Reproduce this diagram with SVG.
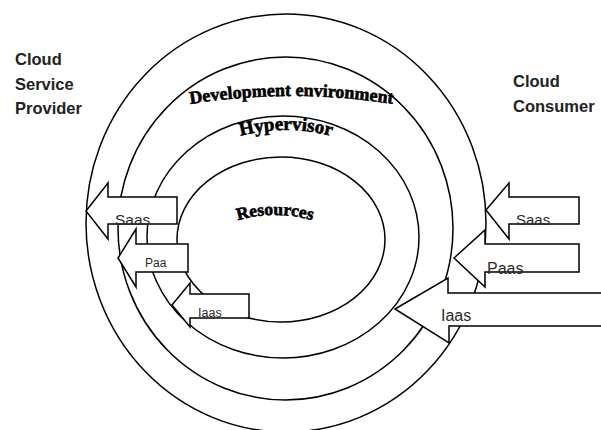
<svg xmlns="http://www.w3.org/2000/svg" width="601" height="430" viewBox="0 0 601 430">
  <style>
    .ring { fill: none; stroke: #000; stroke-width: 1.5; }
    .arrow { fill: #fff; stroke: #000; stroke-width: 1.5; stroke-linejoin: miter; }
    .lbl { font-family: "Liberation Sans", Arial, sans-serif; fill: #2a2a2a; }
    .side { font-family: "Liberation Sans", Arial, sans-serif; font-weight: bold; font-size: 16.5px; fill: #222; }
    .arc { font-family: "Liberation Serif", "Times New Roman", serif; font-weight: bold; fill: #000; stroke: #000; stroke-width: 0.6; }
  </style>
  <defs>
    <path id="pDev" d="M160,109.5 A648,648 0 0,1 423,109.5"/>
    <path id="pHyp" d="M216,144.3 A179,179 0 0,1 356,144.3"/>
    <path id="pRes" d="M215,229.2 A134,134 0 0,1 335,229.2"/>
  </defs>
  <rect width="601" height="430" fill="#fff"/>

  <g id="outer-ring">
    <ellipse class="ring" cx="286" cy="223" rx="200" ry="209"/>
  </g>
  <g id="development-environment">
    <ellipse class="ring" cx="285.5" cy="228.5" rx="167.5" ry="171.5"/>
    <text class="arc" font-size="18"><textPath href="#pDev" startOffset="50%" text-anchor="middle">Development environment</textPath></text>
  </g>
  <g id="hypervisor">
    <ellipse class="ring" cx="283" cy="237" rx="136" ry="121"/>
    <text class="arc" font-size="19"><textPath href="#pHyp" startOffset="50%" text-anchor="middle">Hypervisor</textPath></text>
  </g>
  <g id="resources">
    <ellipse class="ring" cx="281" cy="239.5" rx="104" ry="82.5"/>
    <text class="arc" font-size="17.5"><textPath href="#pRes" startOffset="50%" text-anchor="middle">Resources</textPath></text>
  </g>

  <g id="cloud-service-provider">
    <text class="side" x="15" y="65">Cloud</text>
    <text class="side" x="15" y="90">Service</text>
    <text class="side" x="15" y="114">Provider</text>
  </g>
  <g id="cloud-consumer">
    <text class="side" x="513" y="87">Cloud</text>
    <text class="side" x="513" y="112">Consumer</text>
  </g>

  <g id="connectors">
    <g id="provider-saas">
      <polygon class="arrow" points="86,211 108,183 108,197 177,197 177,224 108,224 108,239"/>
      <text class="lbl" x="115" y="225" font-size="15.5">Saas</text>
    </g>
    <g id="provider-paa">
      <polygon class="arrow" points="118,258 136,229 136,244 188,244 188,272 136,272 136,287"/>
      <text class="lbl" x="145" y="267" font-size="12">Paa</text>
    </g>
    <g id="provider-iaas">
      <polygon class="arrow" points="172,305 190,283 190,294 249,294 249,318 190,318 190,327"/>
      <text class="lbl" x="198" y="317" font-size="12.5">Iaas</text>
    </g>
    <g id="consumer-saas">
      <polygon class="arrow" points="486,210 509,183 509,197 579,197 579,224 509,224 509,239"/>
      <text class="lbl" x="516" y="225" font-size="15">Saas</text>
    </g>
    <g id="consumer-paas">
      <polygon class="arrow" points="454,258 485,230 485,244 579,244 579,272 485,272 485,287"/>
      <text class="lbl" x="487" y="274" font-size="16">Paas</text>
    </g>
    <g id="consumer-iaas">
      <polygon class="arrow" points="395,309 448,278 448,293 610,293 610,326 449,326 449,343"/>
      <text class="lbl" x="441" y="321" font-size="16">Iaas</text>
    </g>
  </g>
</svg>
